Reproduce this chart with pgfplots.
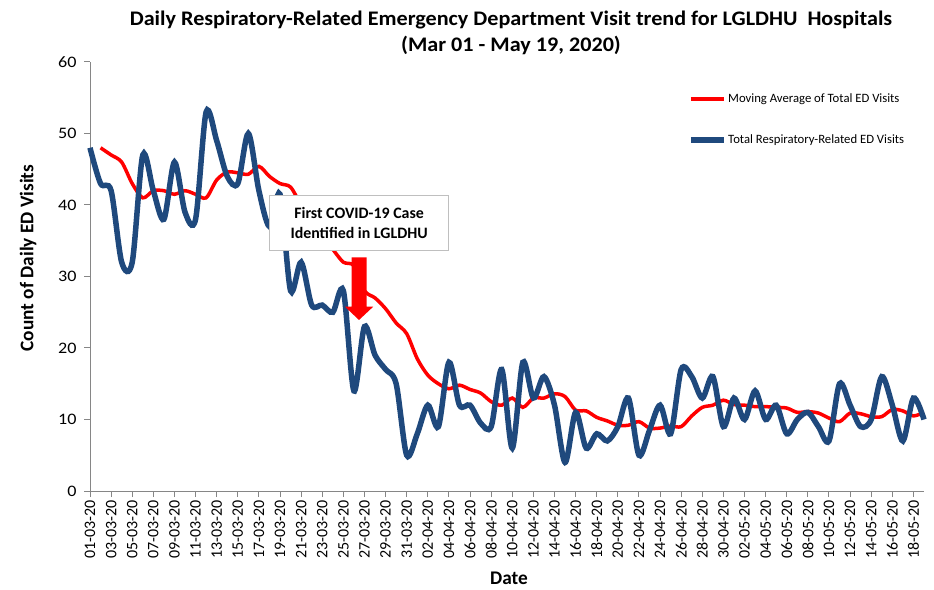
\documentclass[border=0pt]{standalone}
\usepackage{pgfplots}
\pgfplotsset{compat=1.18}
\usepackage{fontspec}
\setmainfont{Carlito}
\newfontfamily\widefont[FakeStretch=1.07]{Carlito}
\newfontfamily\wideticks[FakeStretch=1.13]{Carlito}
\definecolor{serblue}{RGB}{31,73,125}
\definecolor{axgray}{RGB}{134,134,134}
\begin{document}
\begin{tikzpicture}[x=1pt,y=1pt]
\path (0,0) rectangle (934,589);
\begin{axis}[
  at={(90pt,98pt)}, anchor=south west, scale only axis,
  width=834pt, height=429pt,
  xmin=0, xmax=79, ymin=0, ymax=60,
  axis x line*=bottom, axis y line*=left,
  axis line style={draw=axgray, line width=1pt},
  tick style={draw=axgray, line width=1pt},
  tick align=outside, major tick length=6pt,
  xtick={0,2,...,78},
  xticklabels={01-03-20,03-03-20,05-03-20,07-03-20,09-03-20,11-03-20,13-03-20,15-03-20,17-03-20,19-03-20,21-03-20,23-03-20,25-03-20,27-03-20,29-03-20,31-03-20,02-04-20,04-04-20,06-04-20,08-04-20,10-04-20,12-04-20,14-04-20,16-04-20,18-04-20,20-04-20,22-04-20,24-04-20,26-04-20,28-04-20,30-04-20,02-05-20,04-05-20,06-05-20,08-05-20,10-05-20,12-05-20,14-05-20,16-05-20,18-05-20},
  ytick={0,10,...,60},
  /pgf/number format/assume math mode=true,
  tick label style={font=\fontsize{16}{16}\selectfont, text=black},
  xticklabel style={rotate=90, anchor=east},
  yticklabel style={font=\wideticks\fontsize{16}{16}\selectfont, xshift=-4pt},
  clip=false,
  legend cell align=left,
  legend style={at={(0.717,0.93)}, anchor=north west, draw=none, fill=none,
    font=\fontsize{12.7}{12.7}\selectfont, row sep=28pt, inner sep=0pt,
    nodes={inner sep=1.5pt}},
  legend image code/.code={\draw[#1] (0pt,0pt) -- (33pt,0pt);},
]
\addplot[red, line width=3.5pt, smooth] table {
x y
1 48
2 47
3 46
4 43
5 41
6 42
7 42
8 41.5
9 42
10 41.5
11 41
12 43.5
13 44.6
14 44.5
15 44.3
16 45.4
17 44
18 43
19 42.5
20 40
21 38
22 35.7
23 33.8
24 32
25 31.5
26 28
27 27
28 25.5
29 23.5
30 22
31 18.5
32 16.2
33 15
34 14.3
35 14.8
36 14.2
37 13.7
38 12.5
39 12
40 13
41 11.7
42 13
43 13
44 13.6
45 13.2
46 11.3
47 11.2
48 10.3
49 9.8
50 9.2
51 9.2
52 9.7
53 8.8
54 8.8
55 9.1
56 9
57 10.5
58 11.7
59 12
60 12.7
61 12.1
62 12
63 11.8
64 11.8
65 11.7
66 11.6
67 11
68 11.1
69 10.9
70 10.2
71 9.7
72 10.9
73 10.8
74 10.4
75 10.4
76 11.4
77 11.2
78 10.5
79 11
};
\addlegendentry{Moving Average of Total ED Visits}
\addplot[serblue, line width=5.5pt, smooth] table {
x y
0 48
1 43
2 42
3 32
4 32
5 47
6 42
7 38
8 46
9 39
10 38
11 53
12 49
13 44
14 43
15 50
16 42
17 37
18 41.5
19 28
20 32
21 26
22 26
23 25
24 28
25 14
26 23
27 19
28 17
29 15
30 5
31 8
32 12
33 9
34 18
35 12
36 12
37 9.5
38 9
39 17
40 6
41 18
42 13
43 16
44 12
45 4
46 11
47 6
48 8
49 7
50 9
51 13
52 5
53 8.5
54 12
55 8
56 17
57 16
58 13
59 16
60 9
61 13
62 10
63 14
64 10
65 12
66 8
67 10
68 11
69 9
70 7
71 15
72 12
73 9
74 10
75 16
76 12
77 7
78 13
79 10
};
\addlegendentry{Total Respiratory-Related ED Visits}
\draw[draw=gray!50, fill=white, line width=1pt] (axis cs:16.98,33.7) rectangle (axis cs:34.0,41.26);
\node[align=center, font=\bfseries\fontsize{15.9}{19.7}\selectfont] at (axis cs:25.49,37.48) {First COVID-19 Case\\Identified in LGLDHU};
\fill[red] (axis cs:24.79,32.68) -- (axis cs:26.21,32.68) -- (axis cs:26.21,25.78) -- (axis cs:26.83,25.78) -- (axis cs:25.48,23.92) -- (axis cs:24.15,25.78) -- (axis cs:24.79,25.78) -- cycle;
\end{axis}
\node[font=\widefont\bfseries\fontsize{20.7}{20.7}\selectfont] at (511,569) {Daily Respiratory-Related Emergency Department Visit trend for LGLDHU\ \ Hospitals};
\node[font=\widefont\bfseries\fontsize{20.7}{20.7}\selectfont] at (511,544) {(Mar 01 - May 19, 2020)};
\node[rotate=90, font=\bfseries\fontsize{19.3}{19.3}\selectfont] at (28,331) {Count of Daily ED Visits};
\node[font=\bfseries\fontsize{19.3}{19.3}\selectfont] at (509,11) {Date};
\end{tikzpicture}
\end{document}
